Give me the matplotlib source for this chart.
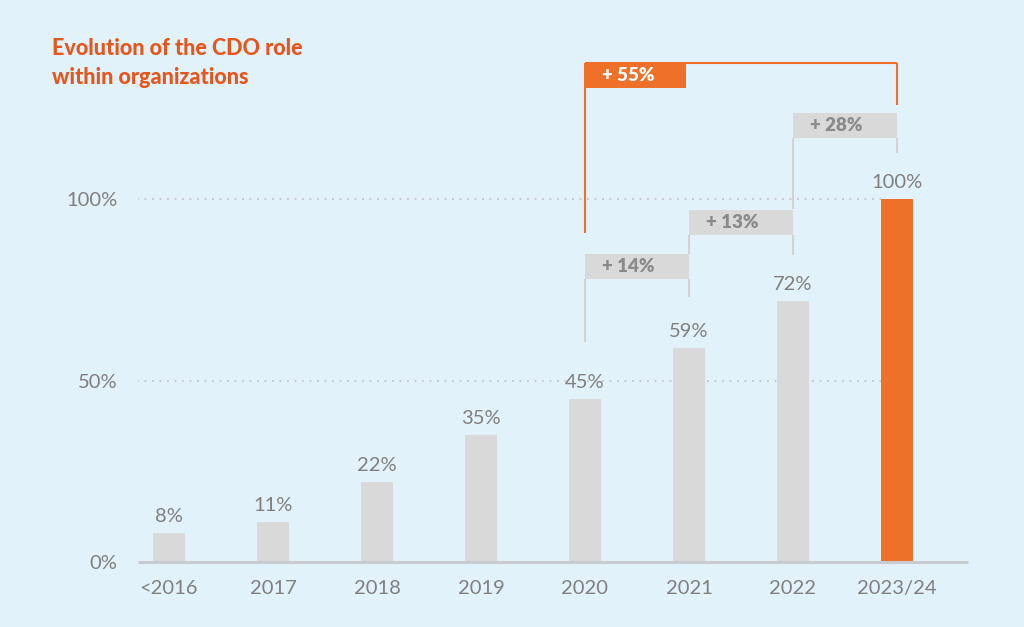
import matplotlib.pyplot as plt
from matplotlib.patches import Rectangle

# ---------------- data ----------------
categories = ["<2016", "2017", "2018", "2019", "2020", "2021", "2022", "2023/24"]
values = [8, 11, 22, 35, 45, 59, 72, 100]
ytick_values = [0, 50, 100]
ytick_labels = ["0%", "50%", "100%"]
increase_labels = ["+ 14%", "+ 13%", "+ 28%", "+ 55%"]
increase_from = [4, 5, 6, 4]
increase_to = [5, 6, 7, 7]
title_lines = ["Evolution of the CDO role", "within organizations"]

# ---------------- styles / layout ----------------
BG = "#e2f2fb"
GRAY_BAR = "#d9d9d9"
GRAY_LINE = "#d2d2d2"
ORANGE = "#ef7129"
TITLE_C = "#e5561d"
TEXT_C = "#7f7f7f"
BOX_TEXT_C = "#8a8a8a"
FONT = "Lato"

# bracket geometry (in data units)
box_bottom = [78.0, 90.1, 116.8, 130.6]
box_h = 6.9
left_line_bottom = [60.6, 84.8, 97.2, 90.6]
right_line_bottom = [73.0, 84.6, 112.7, 125.8]

fig = plt.figure(figsize=(10.24, 6.27), dpi=100, facecolor=BG)
ax = fig.add_axes([138 / 1024, 65 / 627, 830 / 1024, 544.5 / 627])
ax.set_facecolor(BG)
ax.set_xlim(-0.298, 7.683)
ax.set_ylim(0, 150)
for s in ax.spines.values():
    s.set_visible(False)

x = list(range(len(categories)))
colors = [GRAY_BAR] * (len(values) - 1) + [ORANGE]
ax.bar(x, values, width=0.31, color=colors, zorder=3)

# dotted gridlines
for yv in [50, 100]:
    ax.plot([-0.31, 6.85], [yv, yv], color="#c9cccf", lw=1.5,
            linestyle=(0, (0.9, 2.7)), zorder=1)

# baseline
ax.plot([-0.298, 7.683], [0, 0], color="#c7ccd1", lw=2.2, zorder=4,
        solid_capstyle="butt", clip_on=False)

# value labels
for xi, v in zip(x, values):
    ax.annotate(f"{v}%", (xi, v), xytext=(0, 8), textcoords="offset points",
                ha="center", va="baseline", fontsize=14.5, color=TEXT_C,
                family=FONT, zorder=5)

# ticks
ax.set_xticks(x)
ax.set_xticklabels(categories, fontsize=14.5, color=TEXT_C, family=FONT)
ax.set_yticks(ytick_values)
ax.set_yticklabels(ytick_labels, fontsize=14.5, color=TEXT_C, family=FONT)
ax.tick_params(axis="x", length=0, pad=13)
ax.tick_params(axis="y", length=0, pad=15)

# brackets
for k, lab in enumerate(increase_labels):
    a, b = increase_from[k], increase_to[k]
    yb = box_bottom[k]
    is_total = (k == len(increase_labels) - 1)
    c = ORANGE if is_total else GRAY_LINE
    top = yb + (box_h if is_total else 0)
    ax.plot([a, a], [left_line_bottom[k], top], color=c, lw=1.5, zorder=2,
            solid_capstyle="butt")
    ax.plot([b, b], [right_line_bottom[k], top], color=c, lw=1.5, zorder=2,
            solid_capstyle="butt")
    if is_total:
        ax.plot([a, b], [top, top], color=ORANGE, lw=1.5, zorder=2,
                solid_capstyle="butt")
        box_w = 0.97
        face = ORANGE
        tc = "white"
    else:
        box_w = b - a
        face = GRAY_BAR
        tc = BOX_TEXT_C
    ax.add_patch(Rectangle((a, yb), box_w, box_h, facecolor=face,
                           edgecolor="none", zorder=3))
    ax.text(a + 0.16, yb + box_h / 2, lab, ha="left", va="center",
            fontsize=13.5, fontweight="heavy", color=tc, family=FONT, zorder=5)

# title
fig.text(52 / 1024, 1 - 55 / 627, title_lines[0], ha="left", va="baseline",
         fontsize=15.5, fontweight=900, color=TITLE_C, family=FONT)
fig.text(52 / 1024, 1 - 84 / 627, title_lines[1], ha="left", va="baseline",
         fontsize=15.5, fontweight=900, color=TITLE_C, family=FONT)

fig.savefig("out.png", dpi=100, facecolor=BG)
